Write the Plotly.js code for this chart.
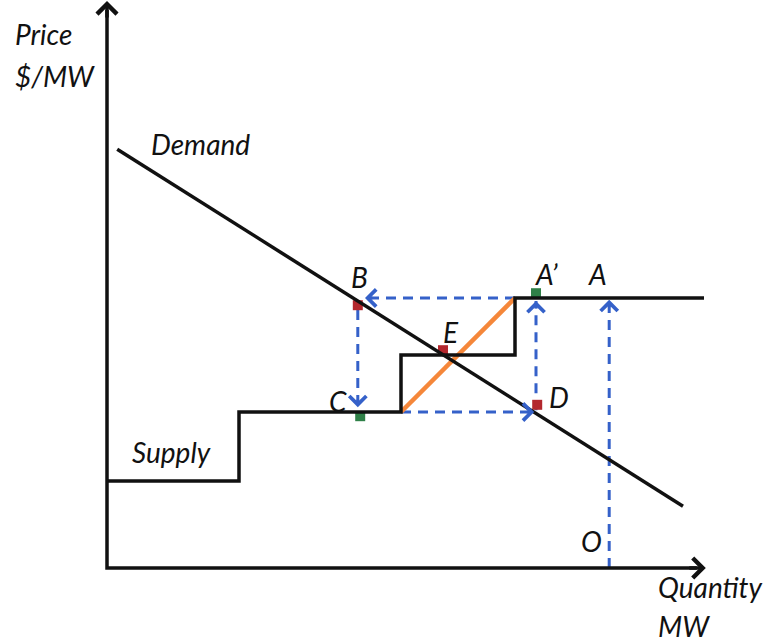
<!DOCTYPE html>
<html><head><meta charset="utf-8">
<script src="https://cdn.plot.ly/plotly-3.0.1.min.js"></script>
<style>html,body{margin:0;padding:0;background:#fff;} #chart{width:770px;height:644px;}</style>
</head><body><div id="chart"></div>
<script>
// Supply step curve (quantity, price)
const supplyQ = [0, 22, 22, 49, 49, 68, 68, 99.5];
const supplyP = [14.5, 14.5, 26, 26, 35.5, 35.5, 45, 45];
// Demand line
const demandQ = [1.7, 96];
const demandP = [69.8, 10.3];
// Orange ramp
const rampQ = [49, 68];
const rampP = [26, 45];
// Red points B, E, D
const redNames = ['B', 'E', 'D'];
const redQ = [41.8, 56, 71.7];
const redP = [43.8, 36.3, 27.2];
// Green points A', C
const greenNames = ["A'", 'C'];
const greenQ = [71.5, 42.2];
const greenP = [45.8, 25.3];
// Blue dashed arrows: tail -> head
const arrowTailQ = [68, 41.8, 49, 71.5, 83.7];
const arrowTailP = [45, 43, 26, 26.3, 0];
const arrowHeadQ = [43, 41.8, 71.2, 71.5, 83.7];
const arrowHeadP = [45, 26.8, 26, 44.5, 44.7];
// Axes extents
const axisMaxQ = 99.8;
const axisMaxP = 94.5;
// Labels
const labelText = ['Price', '$/MW', 'Demand', 'Supply', 'B', 'E', 'A’', 'A', 'C', 'D', 'O', 'Quantity', 'MW'];
const labelQ = [-15.5, -15.5, 7.2, 4.0, 42, 57.3, 73.2, 81.8, 38.5, 75.3, 80.8, 91.6, 91.6];
const labelP = [89, 82, 70.7, 19.3, 48.5, 39.3, 49, 49, 27.8, 28.5, 4.5, -3.2, -9.6];
const labelAnchor = ['left', 'left', 'left', 'left', 'center', 'center', 'center', 'center', 'center', 'center', 'center', 'left', 'left'];

const BLUE = '#3561c9';
const traces = [];

// dashed blue lines
const dq = [], dp = [];
for (let i = 0; i < arrowTailQ.length; i++) {
  dq.push(arrowTailQ[i], arrowHeadQ[i], null);
  dp.push(arrowTailP[i], arrowHeadP[i], null);
}
traces.push({x: dq, y: dp, mode: 'lines', line: {color: BLUE, width: 3, dash: '10px,7px'}, hoverinfo: 'skip'});

traces.push({x: redQ, y: redP, text: redNames, mode: 'markers', marker: {symbol: 'square', size: 10, color: '#b3272d', line: {width: 0}}, hoverinfo: 'skip'});
traces.push({x: greenQ, y: greenP, text: greenNames, mode: 'markers', marker: {symbol: 'square', size: 10, color: '#2f8048', line: {width: 0}}, hoverinfo: 'skip'});

traces.push({x: rampQ, y: rampP, mode: 'lines', line: {color: '#f5873a', width: 4.5}, hoverinfo: 'skip'});
traces.push({x: supplyQ, y: supplyP, mode: 'lines', line: {color: '#111', width: 3.5}, hoverinfo: 'skip'});
traces.push({x: demandQ, y: demandP, mode: 'lines', line: {color: '#111', width: 3.5}, hoverinfo: 'skip'});
// axes as polyline
traces.push({x: [0, 0, axisMaxQ - 1.5], y: [axisMaxP - 1.5, 0, 0], mode: 'lines', line: {color: '#111', width: 3.5}, hoverinfo: 'skip'});

const annotations = [];
// blue arrowheads
for (let i = 0; i < arrowTailQ.length; i++) {
  const vq = arrowHeadQ[i] - arrowTailQ[i], vp = arrowHeadP[i] - arrowTailP[i];
  const len = Math.hypot(vq, vp);
  annotations.push({
    x: arrowHeadQ[i], y: arrowHeadP[i], ax: arrowHeadQ[i] - vq / len * 1.5, ay: arrowHeadP[i] - vp / len * 1.5,
    xref: 'x', yref: 'y', axref: 'x', ayref: 'y', text: '', showarrow: true,
    arrowhead: 4, arrowsize: 1.1, arrowwidth: 3, arrowcolor: BLUE, standoff: 0
  });
}
// axis arrowheads
annotations.push({x: 0, y: axisMaxP, ax: 0, ay: axisMaxP - 3, xref: 'x', yref: 'y', axref: 'x', ayref: 'y', text: '', showarrow: true, arrowhead: 4, arrowsize: 1.1, arrowwidth: 3.5, arrowcolor: '#111'});
annotations.push({x: axisMaxQ, y: 0, ax: axisMaxQ - 3, ay: 0, xref: 'x', yref: 'y', axref: 'x', ayref: 'y', text: '', showarrow: true, arrowhead: 4, arrowsize: 1.1, arrowwidth: 3.5, arrowcolor: '#111'});
// text labels
for (let i = 0; i < labelText.length; i++) {
  annotations.push({
    x: labelQ[i], y: labelP[i], xref: 'x', yref: 'y', text: labelText[i], showarrow: false,
    xanchor: labelAnchor[i], yanchor: 'middle', borderpad: 0,
    font: {family: 'Lato, Carlito, "Open Sans", sans-serif', size: 28, color: '#111', style: 'italic'}
  });
}

const layout = {
  width: 770, height: 644,
  margin: {l: 0, r: 0, t: 0, b: 0},
  paper_bgcolor: '#fff', plot_bgcolor: '#fff',
  showlegend: false,
  xaxis: {range: [-107 / 6, 663 / 6], visible: false, fixedrange: true},
  yaxis: {range: [-76 / 6, 568 / 6], visible: false, fixedrange: true},
  annotations: annotations
};
Plotly.newPlot('chart', traces, layout, {displayModeBar: false, staticPlot: true});
</script>
</body></html>
